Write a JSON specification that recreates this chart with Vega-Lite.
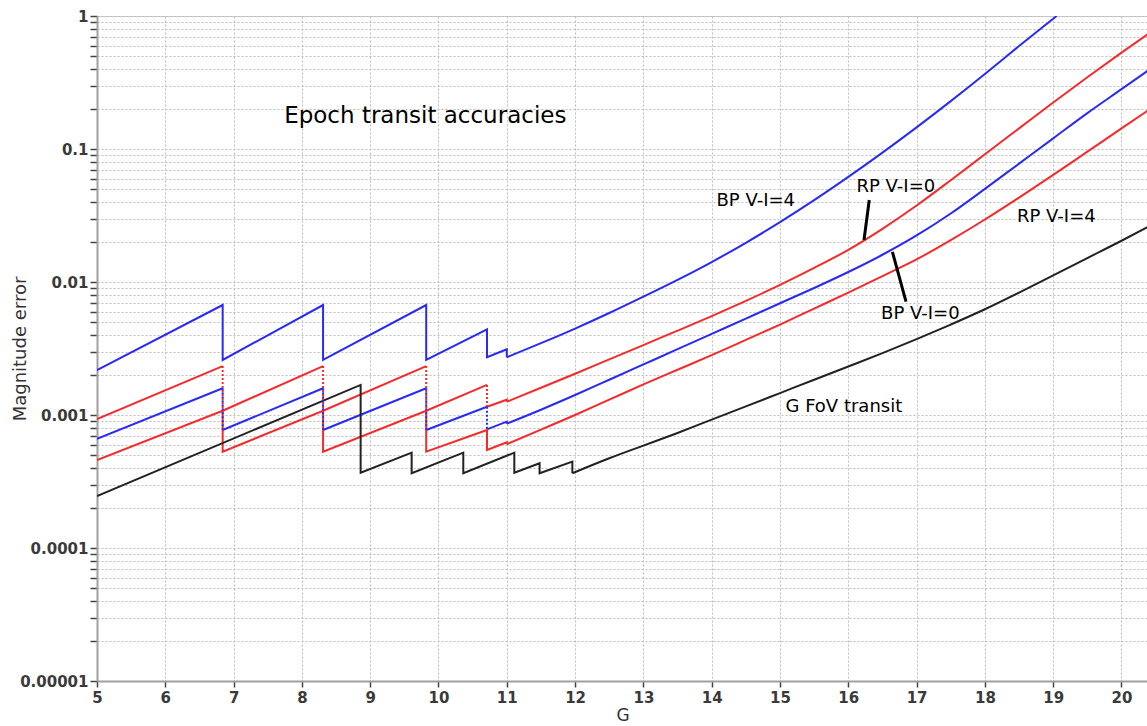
{
  "$schema": "https://vega.github.io/schema/vega-lite/v6.json",
  "width": 1051,
  "height": 665,
  "autosize": "none",
  "padding": {"left": 97, "top": 16, "right": 0, "bottom": 45},
  "background": "white",
  "config": {"view": {"stroke": "#cccccc"}},
  "datasets": {
    "saw": [
      {"series": "BP V-I=4", "seg": 1, "i": 1, "G": 5, "err": 0.002178},
      {"series": "BP V-I=4", "seg": 1, "i": 2, "G": 6.84, "err": 0.006714},
      {"series": "BP V-I=4", "seg": 1, "i": 3, "G": 6.84, "err": 0.002594},
      {"series": "BP V-I=4", "seg": 1, "i": 4, "G": 8.31, "err": 0.006714},
      {"series": "BP V-I=4", "seg": 1, "i": 5, "G": 8.31, "err": 0.002594},
      {"series": "BP V-I=4", "seg": 1, "i": 6, "G": 9.82, "err": 0.006714},
      {"series": "BP V-I=4", "seg": 1, "i": 7, "G": 9.82, "err": 0.002594},
      {"series": "BP V-I=4", "seg": 1, "i": 8, "G": 10.71, "err": 0.004406},
      {"series": "BP V-I=4", "seg": 1, "i": 9, "G": 10.71, "err": 0.002716},
      {"series": "BP V-I=4", "seg": 1, "i": 10, "G": 11.0, "err": 0.003119},
      {"series": "BP V-I=4", "seg": 1, "i": 11, "G": 11.0, "err": 0.002716},

      {"series": "RP V-I=0", "seg": 1, "i": 1, "G": 5, "err": 0.000933},
      {"series": "RP V-I=0", "seg": 1, "i": 2, "G": 6.84, "err": 0.002333},
      {"series": "RP V-I=0", "seg": 2, "i": 1, "G": 6.84, "err": 0.001076},
      {"series": "RP V-I=0", "seg": 2, "i": 2, "G": 8.31, "err": 0.002333},
      {"series": "RP V-I=0", "seg": 3, "i": 1, "G": 8.31, "err": 0.001076},
      {"series": "RP V-I=0", "seg": 3, "i": 2, "G": 9.82, "err": 0.002333},
      {"series": "RP V-I=0", "seg": 4, "i": 1, "G": 9.82, "err": 0.001076},
      {"series": "RP V-I=0", "seg": 4, "i": 2, "G": 10.71, "err": 0.001683},
      {"series": "RP V-I=0", "seg": 5, "i": 1, "G": 10.71, "err": 0.001153},
      {"series": "RP V-I=0", "seg": 5, "i": 2, "G": 11.0, "err": 0.001303},
      {"series": "RP V-I=0", "seg": 5, "i": 3, "G": 11.0, "err": 0.001259},

      {"series": "BP V-I=0", "seg": 1, "i": 1, "G": 5, "err": 0.000661},
      {"series": "BP V-I=0", "seg": 1, "i": 2, "G": 6.84, "err": 0.001589},
      {"series": "BP V-I=0", "seg": 2, "i": 1, "G": 6.84, "err": 0.000771},
      {"series": "BP V-I=0", "seg": 2, "i": 2, "G": 8.31, "err": 0.001589},
      {"series": "BP V-I=0", "seg": 3, "i": 1, "G": 8.31, "err": 0.000771},
      {"series": "BP V-I=0", "seg": 3, "i": 2, "G": 9.82, "err": 0.001589},
      {"series": "BP V-I=0", "seg": 4, "i": 1, "G": 9.82, "err": 0.000771},
      {"series": "BP V-I=0", "seg": 4, "i": 2, "G": 10.71, "err": 0.001153},
      {"series": "BP V-I=0", "seg": 5, "i": 1, "G": 10.71, "err": 0.00078},
      {"series": "BP V-I=0", "seg": 5, "i": 2, "G": 11.0, "err": 0.000891},
      {"series": "BP V-I=0", "seg": 5, "i": 3, "G": 11.0, "err": 0.000861},

      {"series": "RP V-I=4", "seg": 1, "i": 1, "G": 5, "err": 0.000459},
      {"series": "RP V-I=4", "seg": 1, "i": 2, "G": 6.84, "err": 0.001076},
      {"series": "RP V-I=4", "seg": 1, "i": 3, "G": 6.84, "err": 0.00053},
      {"series": "RP V-I=4", "seg": 1, "i": 4, "G": 8.31, "err": 0.001076},
      {"series": "RP V-I=4", "seg": 1, "i": 5, "G": 8.31, "err": 0.00053},
      {"series": "RP V-I=4", "seg": 1, "i": 6, "G": 9.82, "err": 0.001076},
      {"series": "RP V-I=4", "seg": 1, "i": 7, "G": 9.82, "err": 0.00053},
      {"series": "RP V-I=4", "seg": 1, "i": 8, "G": 10.71, "err": 0.000771},
      {"series": "RP V-I=4", "seg": 1, "i": 9, "G": 10.71, "err": 0.000546},
      {"series": "RP V-I=4", "seg": 1, "i": 10, "G": 11.0, "err": 0.000624},
      {"series": "RP V-I=4", "seg": 1, "i": 11, "G": 11.0, "err": 0.000603},

      {"series": "G FoV transit", "seg": 1, "i": 1, "G": 5, "err": 0.000246},
      {"series": "G FoV transit", "seg": 1, "i": 2, "G": 8.86, "err": 0.001683},
      {"series": "G FoV transit", "seg": 1, "i": 3, "G": 8.86, "err": 0.000368},
      {"series": "G FoV transit", "seg": 1, "i": 4, "G": 9.607, "err": 0.000521},
      {"series": "G FoV transit", "seg": 1, "i": 5, "G": 9.607, "err": 0.000365},
      {"series": "G FoV transit", "seg": 1, "i": 6, "G": 10.363, "err": 0.000521},
      {"series": "G FoV transit", "seg": 1, "i": 7, "G": 10.363, "err": 0.000365},
      {"series": "G FoV transit", "seg": 1, "i": 8, "G": 11.11, "err": 0.000521},
      {"series": "G FoV transit", "seg": 1, "i": 9, "G": 11.11, "err": 0.000368},
      {"series": "G FoV transit", "seg": 1, "i": 10, "G": 11.48, "err": 0.000434},
      {"series": "G FoV transit", "seg": 1, "i": 11, "G": 11.48, "err": 0.000365},
      {"series": "G FoV transit", "seg": 1, "i": 12, "G": 11.96, "err": 0.000446},
      {"series": "G FoV transit", "seg": 1, "i": 13, "G": 11.96, "err": 0.000365}
    ],
    "smooth": [
      {"series": "BP V-I=4", "G": 11.0, "err": 0.002716},
      {"series": "BP V-I=4", "G": 11.5, "err": 0.003467},
      {"series": "BP V-I=4", "G": 12, "err": 0.004467},
      {"series": "BP V-I=4", "G": 12.5, "err": 0.005848},
      {"series": "BP V-I=4", "G": 13, "err": 0.007762},
      {"series": "BP V-I=4", "G": 13.5, "err": 0.01038},
      {"series": "BP V-I=4", "G": 14, "err": 0.01413},
      {"series": "BP V-I=4", "G": 14.5, "err": 0.01972},
      {"series": "BP V-I=4", "G": 15, "err": 0.02818},
      {"series": "BP V-I=4", "G": 15.5, "err": 0.04121},
      {"series": "BP V-I=4", "G": 16, "err": 0.06166},
      {"series": "BP V-I=4", "G": 16.5, "err": 0.09397},
      {"series": "BP V-I=4", "G": 17, "err": 0.1455},
      {"series": "BP V-I=4", "G": 17.5, "err": 0.2291},
      {"series": "BP V-I=4", "G": 18, "err": 0.3664},
      {"series": "BP V-I=4", "G": 18.5, "err": 0.5943},
      {"series": "BP V-I=4", "G": 19.05, "err": 1.0},

      {"series": "RP V-I=0", "G": 11.0, "err": 0.001259},
      {"series": "RP V-I=0", "G": 11.5, "err": 0.001603},
      {"series": "RP V-I=0", "G": 12, "err": 0.002042},
      {"series": "RP V-I=0", "G": 12.5, "err": 0.002618},
      {"series": "RP V-I=0", "G": 13, "err": 0.003357},
      {"series": "RP V-I=0", "G": 13.5, "err": 0.004305},
      {"series": "RP V-I=0", "G": 14, "err": 0.005546},
      {"series": "RP V-I=0", "G": 14.5, "err": 0.007211},
      {"series": "RP V-I=0", "G": 15, "err": 0.009506},
      {"series": "RP V-I=0", "G": 15.5, "err": 0.01276},
      {"series": "RP V-I=0", "G": 16, "err": 0.01746},
      {"series": "RP V-I=0", "G": 16.5, "err": 0.02512},
      {"series": "RP V-I=0", "G": 17, "err": 0.03758},
      {"series": "RP V-I=0", "G": 17.5, "err": 0.05821},
      {"series": "RP V-I=0", "G": 18, "err": 0.0912},
      {"series": "RP V-I=0", "G": 18.5, "err": 0.1429},
      {"series": "RP V-I=0", "G": 19, "err": 0.2239},
      {"series": "RP V-I=0", "G": 19.5, "err": 0.3467},
      {"series": "RP V-I=0", "G": 20, "err": 0.5309},
      {"series": "RP V-I=0", "G": 20.388, "err": 0.7328},

      {"series": "BP V-I=0", "G": 11.0, "err": 0.000861},
      {"series": "BP V-I=0", "G": 11.5, "err": 0.001096},
      {"series": "BP V-I=0", "G": 12, "err": 0.001413},
      {"series": "BP V-I=0", "G": 12.5, "err": 0.001841},
      {"series": "BP V-I=0", "G": 13, "err": 0.002399},
      {"series": "BP V-I=0", "G": 13.5, "err": 0.003126},
      {"series": "BP V-I=0", "G": 14, "err": 0.004074},
      {"series": "BP V-I=0", "G": 14.5, "err": 0.005309},
      {"series": "BP V-I=0", "G": 15, "err": 0.006918},
      {"series": "BP V-I=0", "G": 15.5, "err": 0.009016},
      {"series": "BP V-I=0", "G": 16, "err": 0.01189},
      {"series": "BP V-I=0", "G": 16.5, "err": 0.01603},
      {"series": "BP V-I=0", "G": 17, "err": 0.02239},
      {"series": "BP V-I=0", "G": 17.5, "err": 0.03273},
      {"series": "BP V-I=0", "G": 18, "err": 0.05012},
      {"series": "BP V-I=0", "G": 18.5, "err": 0.07762},
      {"series": "BP V-I=0", "G": 19, "err": 0.1202},
      {"series": "BP V-I=0", "G": 19.5, "err": 0.1862},
      {"series": "BP V-I=0", "G": 20, "err": 0.2818},
      {"series": "BP V-I=0", "G": 20.388, "err": 0.389},

      {"series": "RP V-I=4", "G": 11.0, "err": 0.000603},
      {"series": "RP V-I=4", "G": 11.5, "err": 0.000776},
      {"series": "RP V-I=4", "G": 12, "err": 0.001},
      {"series": "RP V-I=4", "G": 12.5, "err": 0.001303},
      {"series": "RP V-I=4", "G": 13, "err": 0.001698},
      {"series": "RP V-I=4", "G": 13.5, "err": 0.002188},
      {"series": "RP V-I=4", "G": 14, "err": 0.002818},
      {"series": "RP V-I=4", "G": 14.5, "err": 0.003673},
      {"series": "RP V-I=4", "G": 15, "err": 0.004786},
      {"series": "RP V-I=4", "G": 15.5, "err": 0.00631},
      {"series": "RP V-I=4", "G": 16, "err": 0.008318},
      {"series": "RP V-I=4", "G": 16.5, "err": 0.01109},
      {"series": "RP V-I=4", "G": 17, "err": 0.01479},
      {"series": "RP V-I=4", "G": 17.5, "err": 0.02065},
      {"series": "RP V-I=4", "G": 18, "err": 0.02951},
      {"series": "RP V-I=4", "G": 18.5, "err": 0.04315},
      {"series": "RP V-I=4", "G": 19, "err": 0.06383},
      {"series": "RP V-I=4", "G": 19.5, "err": 0.0955},
      {"series": "RP V-I=4", "G": 20, "err": 0.1429},
      {"series": "RP V-I=4", "G": 20.388, "err": 0.195},

      {"series": "G FoV transit", "G": 11.96, "err": 0.000365},
      {"series": "G FoV transit", "G": 12.5, "err": 0.000473},
      {"series": "G FoV transit", "G": 13, "err": 0.000589},
      {"series": "G FoV transit", "G": 13.5, "err": 0.000733},
      {"series": "G FoV transit", "G": 14, "err": 0.000923},
      {"series": "G FoV transit", "G": 14.5, "err": 0.001161},
      {"series": "G FoV transit", "G": 15, "err": 0.001462},
      {"series": "G FoV transit", "G": 15.5, "err": 0.001841},
      {"series": "G FoV transit", "G": 16, "err": 0.002317},
      {"series": "G FoV transit", "G": 16.5, "err": 0.002917},
      {"series": "G FoV transit", "G": 17, "err": 0.003715},
      {"series": "G FoV transit", "G": 17.5, "err": 0.004786},
      {"series": "G FoV transit", "G": 18, "err": 0.006237},
      {"series": "G FoV transit", "G": 18.5, "err": 0.008318},
      {"series": "G FoV transit", "G": 19, "err": 0.01122},
      {"series": "G FoV transit", "G": 19.5, "err": 0.01514},
      {"series": "G FoV transit", "G": 20, "err": 0.02042},
      {"series": "G FoV transit", "G": 20.388, "err": 0.026}
    ],
    "drops": [
      {"series": "RP V-I=0", "G": 6.84, "err": 0.002333, "err2": 0.001076},
      {"series": "RP V-I=0", "G": 8.31, "err": 0.002333, "err2": 0.001076},
      {"series": "RP V-I=0", "G": 9.82, "err": 0.002333, "err2": 0.001076},
      {"series": "RP V-I=0", "G": 10.71, "err": 0.001683, "err2": 0.001153},
      {"series": "BP V-I=0", "G": 6.84, "err": 0.001589, "err2": 0.000771},
      {"series": "BP V-I=0", "G": 8.31, "err": 0.001589, "err2": 0.000771},
      {"series": "BP V-I=0", "G": 9.82, "err": 0.001589, "err2": 0.000771},
      {"series": "BP V-I=0", "G": 10.71, "err": 0.001153, "err2": 0.00078}
    ],
    "pointers": [
      {"label": "RP V-I=0", "G": 16.23, "err": 0.0207, "G2": 16.307, "err2": 0.0414},
      {"label": "BP V-I=0", "G": 16.646, "err": 0.01683, "G2": 16.845, "err2": 0.00711}
    ],
    "notes": [
      {"text": "Epoch transit accuracies", "kind": "title", "G": 7.74, "err": 0.177},
      {"text": "BP V-I=4", "kind": "label", "G": 14.07, "err": 0.0406},
      {"text": "RP V-I=0", "kind": "label", "G": 16.12, "err": 0.0518},
      {"text": "RP V-I=4", "kind": "label", "G": 18.47, "err": 0.031},
      {"text": "BP V-I=0", "kind": "label", "G": 16.48, "err": 0.00574},
      {"text": "G FoV transit", "kind": "label", "G": 15.08, "err": 0.001157}
    ]
  },
  "layer": [
    {
      "data": {"name": "saw"},
      "mark": {"type": "line", "strokeWidth": 2, "clip": true},
      "encoding": {
        "x": {
          "field": "G", "type": "quantitative",
          "scale": {"domain": [5, 20.388], "nice": false, "zero": false},
          "axis": {
            "title": "G",
            "values": [5, 6, 7, 8, 9, 10, 11, 12, 13, 14, 15, 16, 17, 18, 19, 20],
            "format": "d",
            "grid": true, "gridDash": [2, 2], "gridColor": "#bdbdbd", "gridWidth": 1,
            "domainColor": "#a0a0a0", "domainWidth": 2,
            "tickColor": "#444444", "tickSize": 6, "tickWidth": 1.5,
            "labelFont": "DejaVu Sans", "labelFontSize": 15, "labelFontWeight": "bold",
            "labelColor": "#3a3a3a", "labelPadding": 3, "labelFlush": false, "labelOverlap": false,
            "titleFont": "DejaVu Sans", "titleFontSize": 17, "titleFontWeight": "normal",
            "titleColor": "#333333", "titlePadding": 2
          }
        },
        "y": {
          "field": "err", "type": "quantitative",
          "scale": {"type": "log", "domain": [0.00001, 1], "nice": false},
          "axis": {
            "title": "Magnitude error",
            "values": [0.00001, 0.00002, 0.00003, 0.00004, 0.00005, 0.00006, 0.00007, 0.00008, 0.00009,
                       0.0001, 0.0002, 0.0003, 0.0004, 0.0005, 0.0006, 0.0007, 0.0008, 0.0009,
                       0.001, 0.002, 0.003, 0.004, 0.005, 0.006, 0.007, 0.008, 0.009,
                       0.01, 0.02, 0.03, 0.04, 0.05, 0.06, 0.07, 0.08, 0.09,
                       0.1, 0.2, 0.3, 0.4, 0.5, 0.6, 0.7, 0.8, 0.9, 1],
            "labelExpr": "indexof([0.00001, 0.0001, 0.001, 0.01, 0.1, 1], datum.value) >= 0 ? format(datum.value, '.5~f') : ''",
            "grid": true, "gridDash": [2, 2], "gridColor": "#bdbdbd", "gridWidth": 1,
            "domainColor": "#a0a0a0", "domainWidth": 2,
            "tickColor": "#444444", "tickSize": 7, "tickWidth": 1.5,
            "labelFont": "DejaVu Sans", "labelFontSize": 15, "labelFontWeight": "bold",
            "labelColor": "#3a3a3a", "labelPadding": 2, "labelFlush": false, "labelOverlap": false, "labelBound": false,
            "titleFont": "DejaVu Sans", "titleFontSize": 18, "titleFontWeight": "normal",
            "titleColor": "#333333", "titleX": -68
          }
        },
        "color": {
          "field": "series", "type": "nominal",
          "scale": {
            "domain": ["BP V-I=4", "RP V-I=0", "BP V-I=0", "RP V-I=4", "G FoV transit"],
            "range": ["#2a2af5", "#f52a2a", "#2a2af5", "#f52a2a", "#222222"]
          },
          "legend": null
        },
        "detail": {"field": "seg", "type": "nominal"},
        "order": {"field": "i", "type": "quantitative"}
      }
    },
    {
      "data": {"name": "smooth"},
      "mark": {"type": "line", "strokeWidth": 2, "clip": true, "interpolate": "monotone"},
      "encoding": {
        "x": {"field": "G", "type": "quantitative"},
        "y": {"field": "err", "type": "quantitative"},
        "color": {"field": "series", "type": "nominal", "legend": null}
      }
    },
    {
      "data": {"name": "drops"},
      "mark": {"type": "rule", "strokeWidth": 2, "strokeDash": [2, 2]},
      "encoding": {
        "x": {"field": "G", "type": "quantitative"},
        "y": {"field": "err", "type": "quantitative"},
        "y2": {"field": "err2"},
        "color": {"field": "series", "type": "nominal", "legend": null}
      }
    },
    {
      "data": {"name": "pointers"},
      "mark": {"type": "rule", "strokeWidth": 3, "color": "#000000"},
      "encoding": {
        "x": {"field": "G", "type": "quantitative"},
        "y": {"field": "err", "type": "quantitative"},
        "x2": {"field": "G2"},
        "y2": {"field": "err2"}
      }
    },
    {
      "data": {"name": "notes"},
      "transform": [{"filter": "datum.kind === 'label'"}],
      "mark": {"type": "text", "align": "left", "baseline": "middle", "font": "DejaVu Sans", "fontSize": 18, "color": "#000000"},
      "encoding": {
        "x": {"field": "G", "type": "quantitative"},
        "y": {"field": "err", "type": "quantitative"},
        "text": {"field": "text"}
      }
    },
    {
      "data": {"name": "notes"},
      "transform": [{"filter": "datum.kind === 'title'"}],
      "mark": {"type": "text", "align": "left", "baseline": "middle", "font": "DejaVu Sans", "fontSize": 23, "color": "#000000"},
      "encoding": {
        "x": {"field": "G", "type": "quantitative"},
        "y": {"field": "err", "type": "quantitative"},
        "text": {"field": "text"}
      }
    }
  ]
}
